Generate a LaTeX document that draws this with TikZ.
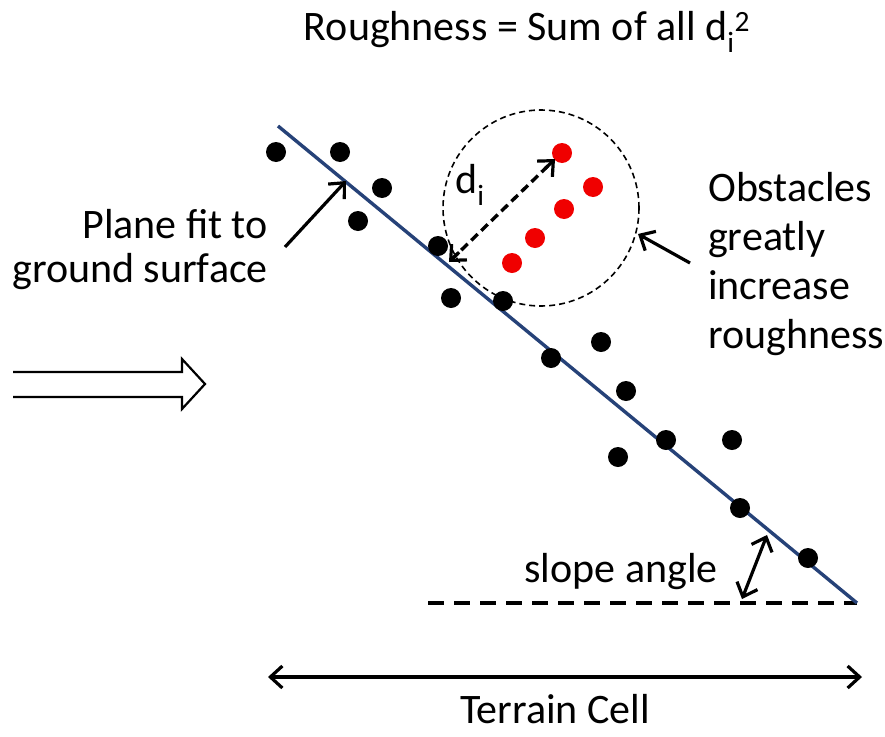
\documentclass[tikz,border=0pt]{standalone}
\usepackage{fontspec}
\setmainfont{Carlito}
\usetikzlibrary{arrows.meta,calc}
\definecolor{planeblue}{RGB}{38,66,120}
\definecolor{obsred}{RGB}{240,0,0}
\begin{document}
\begin{tikzpicture}[x=1pt,y=-1pt,
  dot/.style={circle,fill=black,inner sep=0pt,minimum size=20pt},
  reddot/.style={circle,fill=obsred,inner sep=0pt,minimum size=20pt},
  lbl/.style={font=\fontsize{42}{46}\selectfont,inner sep=0pt},
  barb/.style={line width=3.2pt,-{Straight Barb[length=12pt,width=22pt,line width=3.2pt]}},
  dbarb/.style={line width=3.2pt,{Straight Barb[length=12pt,width=22pt,line width=3.2pt]}-{Straight Barb[length=12pt,width=22pt,line width=3.2pt]}}]
\useasboundingbox (0,0) rectangle (885,736);
% ground plane and horizontal
\coordinate (ptop) at (278,126);
\coordinate (pbot) at (857,603);
\coordinate (hleft) at (428,603);
\draw[black,line width=3.5pt,dash pattern=on 16pt off 10pt] (hleft) -- (pbot);
\draw[planeblue,line width=3.4pt] (ptop) -- (pbot);
% dashed circle
\node[circle,draw,dash pattern=on 6pt off 4pt,line width=1.6pt,minimum size=196pt,inner sep=0pt] (circ) at (541,208) {};
% black dots
\foreach \n/\x/\y in {a/276/152,b/340/152,c/382/188,d/358/221,e/438/246,f/451/298,g/503/301,h/551/358,i/601/342,j/626/391,k/666/440,l/732/440,m/618/457,n/740/508,o/808/558}
  \node[dot] (\n) at (\x,\y) {};
% red dots
\foreach \n/\x/\y in {r1/562/153,r2/593/187,r3/564/209,r4/535/238,r5/512/263}
  \node[reddot] (\n) at (\x,\y) {};
% title
\node[lbl] (title) at (527,32) {Roughness = Sum of all d\textsubscript{i}\textsuperscript{2}};
% d_i
\coordinate (dA) at (449,262);
\coordinate (dB) at (555,159);
\draw[line width=3.4pt,dash pattern=on 9pt off 5pt,shorten <=3pt,shorten >=3pt] (dA) -- (dB);
\draw[barb] ($(dA)!14pt!(dB)$) -- (dA);
\draw[barb] ($(dB)!14pt!(dA)$) -- (dB);
\node[lbl] (di) at (470,185) {d\textsubscript{i}};
% plane fit label
\node[lbl,align=right,anchor=east,font=\fontsize{42}{44}\selectfont] (plane) at (268,250) {Plane fit to\\ground surface};
\coordinate (pA) at (285,247);
\coordinate (pB) at (346,181);
\draw[barb] (pA) -- (pB);
% obstacles label
\node[lbl,align=left,anchor=west,font=\fontsize{42}{49}\selectfont] (obs) at (708,264) {Obstacles\\greatly\\increase\\roughness};
\coordinate (oA) at (690,263);
\coordinate (oB) at (638,234);
\draw[barb] (oA) -- (oB);
% slope angle
\node[lbl] (slope) at (621,572) {slope angle};
\coordinate (sA) at (742,599);
\coordinate (sB) at (767,535);
\draw[dbarb] (sA) -- (sB);
% terrain cell
\coordinate (tA) at (268,677);
\coordinate (tB) at (862,677);
\draw[dbarb] (tA) -- (tB);
\node[lbl] (terrain) at (555,709) {Terrain Cell};
% hollow arrow
\draw[line width=2.2pt,line join=miter] (13,372) -- (182,372) -- (182,359) -- (205,384) -- (182,409) -- (182,397) -- (13,397);
\end{tikzpicture}
\end{document}
